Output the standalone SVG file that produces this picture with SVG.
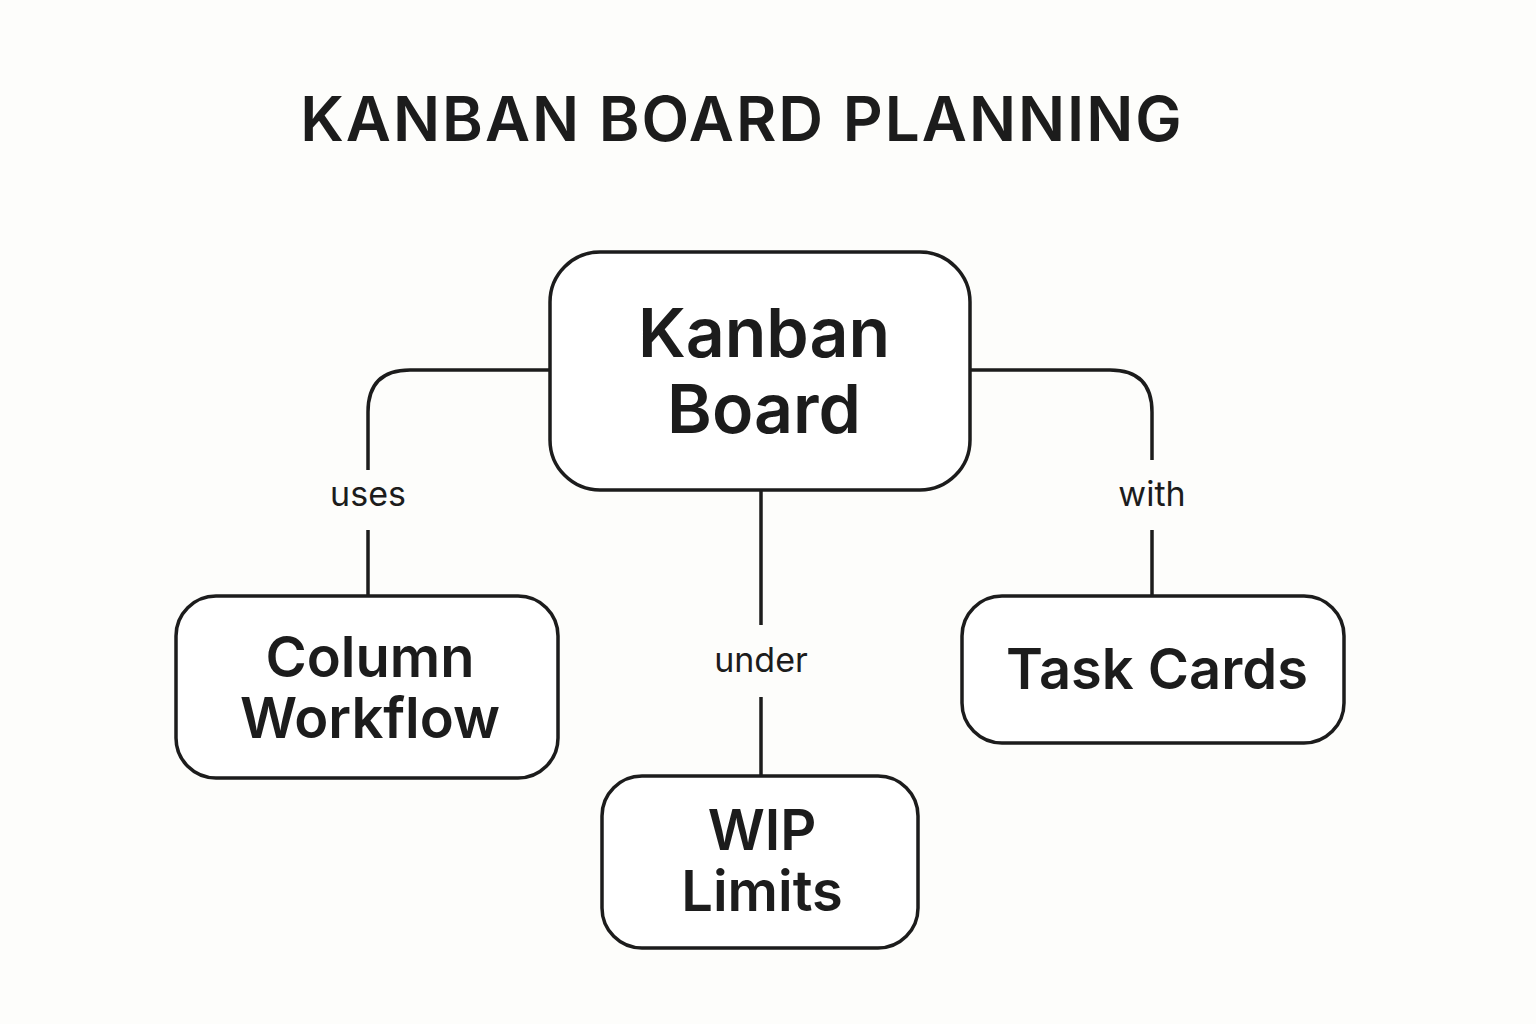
<svg xmlns="http://www.w3.org/2000/svg" width="1536" height="1024" viewBox="0 0 1536 1024">
<style>
.n{fill:#fff;stroke:#1c1c1c;stroke-width:3.5}
.c{fill:none;stroke:#1c1c1c;stroke-width:3.5}
.t{font-family:Inter,"Noto Sans",sans-serif;font-weight:600;fill:#1c1c1c;text-anchor:middle}
.l{font-family:Inter,"Noto Sans",sans-serif;font-size:34px;fill:#1c1c1c;text-anchor:middle}
</style>
<rect width="1536" height="1024" fill="#fdfdfb"/>
<text x="742" y="141" class="t" style="font-size:62px;letter-spacing:2px">KANBAN BOARD PLANNING</text>
<g id="connectors">
<path class="c" d="M550 370 H410 Q368 370 368 412 V470 M368 530 V595"/>
<path class="c" d="M970 370 H1110 Q1152 370 1152 412 V460 M1152 530 V595"/>
<path class="c" d="M761 490 V625 M761 697 V776"/>
<text x="368" y="506" class="l">uses</text>
<text x="1152" y="506" class="l">with</text>
<text x="761" y="672" class="l">under</text>
</g>
<g id="kanban"><rect class="n" x="550" y="252" width="420" height="238" rx="50"/>
<text x="764" y="357" class="t" style="font-size:68px">Kanban</text>
<text x="764" y="433" class="t" style="font-size:68px">Board</text></g>
<g id="column"><rect class="n" x="176" y="596" width="382" height="182" rx="40"/>
<text x="370" y="677" class="t" style="font-size:56px">Column</text>
<text x="370" y="738" class="t" style="font-size:56px">Workflow</text></g>
<g id="wip"><rect class="n" x="602" y="776" width="316" height="172" rx="40"/>
<text x="762" y="850" class="t" style="font-size:56px">WIP</text>
<text x="762" y="911" class="t" style="font-size:56px">Limits</text></g>
<g id="task"><rect class="n" x="962" y="596" width="382" height="147" rx="40"/>
<text x="1157" y="689" class="t" style="font-size:56px">Task Cards</text></g>
</svg>
